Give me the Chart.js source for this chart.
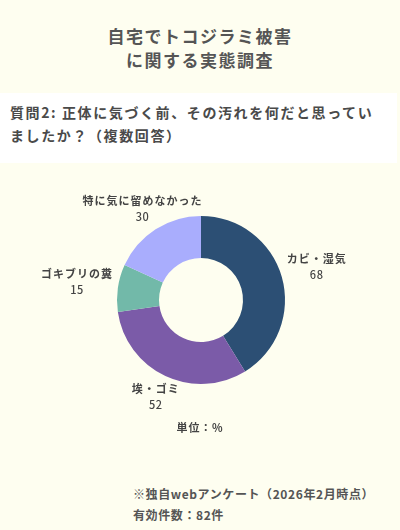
<!DOCTYPE html>
<html lang="ja">
<head>
<meta charset="utf-8">
<script src="https://cdn.jsdelivr.net/npm/chart.js@4.4.1/dist/chart.umd.min.js"></script>
<style>
  html, body { margin: 0; padding: 0; }
  body {
    width: 400px; height: 530px; position: relative; overflow: hidden;
    background: #fefef0;
    font-family: "Noto Sans CJK JP", "Noto Sans", sans-serif;
    color: #555;
  }
  .title {
    position: absolute; top: 24px; left: 0; width: 400px;
    text-align: center; font-size: 17px; font-weight: bold;
    line-height: 24px; letter-spacing: 1.5px;
  }
  .question {
    position: absolute; top: 93px; left: 0; width: 397px; height: 70px;
    background: #ffffff; padding: 8px 0 0 10px; box-sizing: border-box;
    font-size: 14px; font-weight: bold; line-height: 23px; letter-spacing: 1.6px;
    color: #4a4a4a; white-space: nowrap;
  }
  #chart-wrap { position: absolute; top: 170px; left: 0; width: 400px; height: 280px; }
  .unit {
    position: absolute; top: 419px; left: 0; width: 400px; text-align: center;
    font-size: 11px; font-weight: bold; color: #444; letter-spacing: 0.8px;
  }
  .note {
    position: absolute; top: 483px; left: 133px;
    font-size: 12px; font-weight: bold; line-height: 21px; color: #555;
    letter-spacing: 0.6px; white-space: nowrap;
  }
</style>
</head>
<body>
<div class="title">自宅でトコジラミ被害<br>に関する実態調査</div>
<div class="question">質問2: 正体に気づく前、その汚れを何だと思ってい<br>ましたか？（複数回答）</div>
<div id="chart-wrap"><canvas id="chart"></canvas></div>
<div class="unit">単位：%</div>
<div class="note">※独自webアンケート（2026年2月時点）<br>有効件数：82件</div>

<script>
const labels = ['カビ・湿気', '埃・ゴミ', 'ゴキブリの糞', '特に気に留めなかった'];
const values = [68, 52, 15, 30];
const colors = ['#2c4f74', '#7b5ba8', '#72b9a9', '#a9adfd'];

// ラベルを外側に描く
const outsideLabels = {
    id: 'outsideLabels',
    afterDatasetsDraw(chart) {
        const ctx = chart.ctx;
        const meta = chart.getDatasetMeta(0);
        const lineH = 16;
        meta.data.forEach((arc, i) => {
            const p = arc.getProps(['x', 'y', 'startAngle', 'endAngle', 'outerRadius']);
            const mid = (p.startAngle + p.endAngle) / 2;
            const cos = Math.cos(mid), sin = Math.sin(mid);

            ctx.save();
            ctx.letterSpacing = '1px';
            ctx.font = 'bold 11px "Noto Sans CJK JP", sans-serif';
            const w = Math.max(ctx.measureText(labels[i]).width, ctx.measureText(String(values[i])).width);
            const h = lineH * 2;
            const t = Math.min((w / 2) / Math.max(Math.abs(cos), 1e-6), (h / 2) / Math.max(Math.abs(sin), 1e-6));
            const r = p.outerRadius + 5 + t;
            const cx = p.x + cos * r;
            const cy = p.y + sin * r;

            ctx.textAlign = 'center';
            ctx.textBaseline = 'middle';
            ctx.fillStyle = '#444';
            ctx.fillText(labels[i], cx, cy - lineH / 2);
            ctx.font = '500 11px "Noto Sans CJK JP", sans-serif';
            ctx.letterSpacing = '0.5px';
            ctx.fillText(String(values[i]), cx, cy + lineH / 2);
            ctx.restore();
        });
    }
};

new Chart(document.getElementById('chart'), {
    type: 'doughnut',
    data: {
        labels: labels,
        datasets: [{
            data: values,
            backgroundColor: colors,
            borderWidth: 0
        }]
    },
    options: {
        responsive: true,
        maintainAspectRatio: false,
        animation: false,
        cutout: '50%',
        layout: { padding: { top: 46, bottom: 66, left: 2, right: 0 } },
        plugins: {
            legend: { display: false },
            tooltip: { enabled: false }
        }
    },
    plugins: [outsideLabels]
});
</script>
</body>
</html>
